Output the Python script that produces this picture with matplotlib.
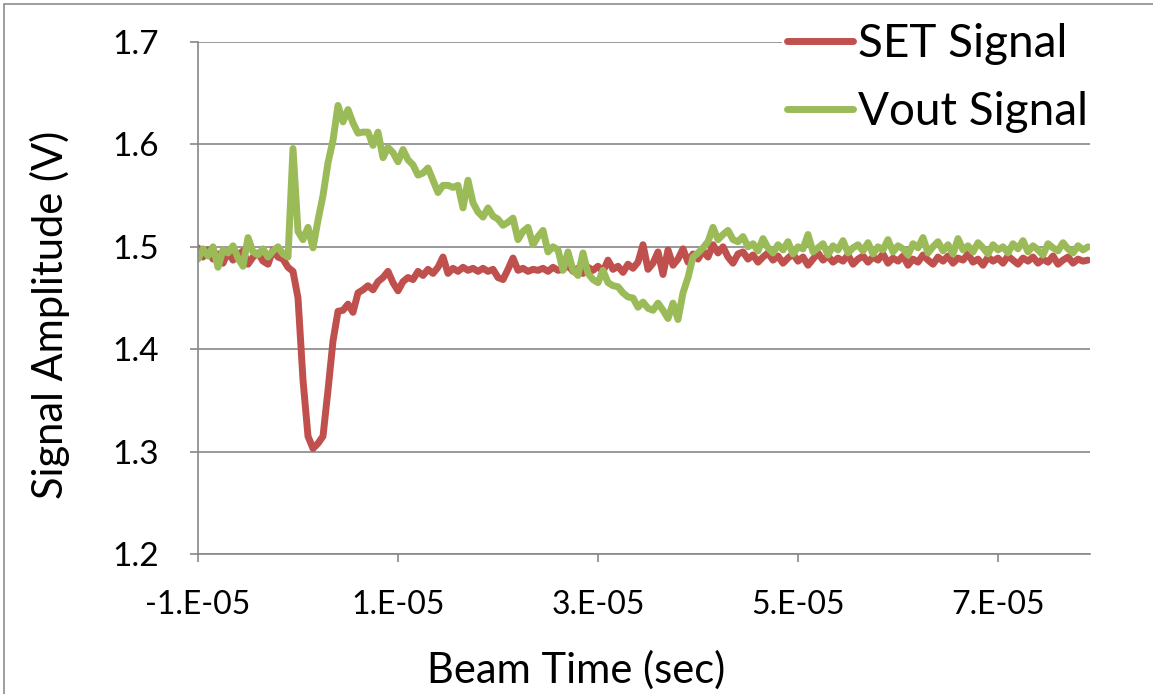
import matplotlib
matplotlib.use("Agg")
import matplotlib.pyplot as plt
from matplotlib.patches import Rectangle

# --- data (time in microseconds, amplitude in volts) ---
time_us = [
    -10.0, -9.5, -9.0, -8.5, -8.0, -7.5, -7.0, -6.5, -6.0, -5.5, -5.0, -4.5, -4.0, -3.5, -3.0, -2.5, -2.0, -1.5, -1.0, -0.5,
    0.0, 0.5, 1.0, 1.5, 2.0, 2.5, 3.0, 3.5, 4.0, 4.5, 5.0, 5.5, 6.0, 6.5, 7.0, 7.5, 8.0, 8.5, 9.0, 9.5,
    10.0, 10.5, 11.0, 11.5, 12.0, 12.5, 13.0, 13.5, 14.0, 14.5, 15.0, 15.5, 16.0, 16.5, 17.0, 17.5, 18.0, 18.5, 19.0, 19.5,
    20.0, 20.5, 21.0, 21.5, 22.0, 22.5, 23.0, 23.5, 24.0, 24.5, 25.0, 25.5, 26.0, 26.5, 27.0, 27.5, 28.0, 28.5, 29.0, 29.5,
    30.0, 30.5, 31.0, 31.5, 32.0, 32.5, 33.0, 33.5, 34.0, 34.5, 35.0, 35.5, 36.0, 36.5, 37.0, 37.5, 38.0, 38.5, 39.0, 39.5,
    40.0, 40.5, 41.0, 41.5, 42.0, 42.5, 43.0, 43.5, 44.0, 44.5, 45.0, 45.5, 46.0, 46.5, 47.0, 47.5, 48.0, 48.5, 49.0, 49.5,
    50.0, 50.5, 51.0, 51.5, 52.0, 52.5, 53.0, 53.5, 54.0, 54.5, 55.0, 55.5, 56.0, 56.5, 57.0, 57.5, 58.0, 58.5, 59.0, 59.5,
    60.0, 60.5, 61.0, 61.5, 62.0, 62.5, 63.0, 63.5, 64.0, 64.5, 65.0, 65.5, 66.0, 66.5, 67.0, 67.5, 68.0, 68.5, 69.0, 69.5,
    70.0, 70.5, 71.0, 71.5, 72.0, 72.5, 73.0, 73.5, 74.0, 74.5, 75.0, 75.5, 76.0, 76.5, 77.0, 77.5, 78.0, 78.5, 79.0,
]

set_signal = [
    # -10 .. -1.5
    1.499, 1.490, 1.497, 1.488, 1.493, 1.484, 1.495, 1.487, 1.492, 1.496, 1.483, 1.490, 1.494, 1.486, 1.483, 1.497, 1.490, 1.488,
    # -1.0 .. 18.0
    1.480, 1.476, 1.450, 1.370, 1.315, 1.303, 1.308, 1.315, 1.360, 1.408, 1.437, 1.438, 1.444, 1.436, 1.455, 1.458, 1.462, 1.458,
    1.466, 1.470, 1.476, 1.465, 1.457, 1.466, 1.470, 1.468, 1.476, 1.472, 1.478, 1.474, 1.480, 1.490, 1.474, 1.479, 1.476, 1.480,
    1.477, 1.479, 1.476,
    # 18.5 .. 44.0
    1.479, 1.476, 1.478, 1.470, 1.468, 1.478, 1.489, 1.477, 1.479, 1.476, 1.478, 1.477, 1.479, 1.476, 1.480, 1.477, 1.478, 1.482,
    1.476, 1.479, 1.474, 1.480, 1.477, 1.481, 1.476, 1.487, 1.478, 1.481, 1.475, 1.483, 1.479, 1.485, 1.502, 1.478, 1.484, 1.495,
    1.473, 1.497, 1.482, 1.488, 1.498, 1.485, 1.493, 1.488, 1.496, 1.490, 1.502, 1.494, 1.500, 1.490, 1.484, 1.493,
    # 44.5 .. 79.0
    1.495, 1.488, 1.492, 1.485, 1.490, 1.494, 1.487, 1.491, 1.484, 1.489, 1.493, 1.486, 1.490, 1.482, 1.488, 1.494, 1.487, 1.491, 1.485, 1.489,
    1.486, 1.492, 1.483, 1.488, 1.491, 1.485, 1.490, 1.487, 1.493, 1.484, 1.489, 1.486, 1.491, 1.482, 1.488, 1.485, 1.492, 1.487, 1.483, 1.490,
    1.486, 1.491, 1.484, 1.489, 1.487, 1.493, 1.485, 1.488, 1.482, 1.490, 1.486, 1.489, 1.484, 1.491, 1.487, 1.483, 1.489, 1.486, 1.490, 1.484,
    1.488, 1.485, 1.491, 1.483, 1.487, 1.490, 1.484, 1.488, 1.486, 1.487,
]

vout_signal = [
    # -10 .. -1.5
    1.488, 1.498, 1.491, 1.500, 1.480, 1.497, 1.494, 1.501, 1.489, 1.481, 1.509, 1.495, 1.492, 1.498, 1.490, 1.496, 1.500, 1.493,
    # -1.0 .. 18.0
    1.490, 1.596, 1.515, 1.507, 1.519, 1.499, 1.526, 1.550, 1.582, 1.604, 1.638, 1.622, 1.634, 1.621, 1.611, 1.612, 1.612, 1.599,
    1.612, 1.587, 1.597, 1.592, 1.583, 1.595, 1.585, 1.580, 1.570, 1.572, 1.577, 1.565, 1.553, 1.560, 1.560, 1.558, 1.560, 1.538,
    1.565, 1.543, 1.534,
    # 18.5 .. 45.0
    1.529, 1.538, 1.530, 1.527, 1.521, 1.524, 1.528, 1.507, 1.515, 1.519, 1.502, 1.510, 1.516, 1.495, 1.500, 1.497, 1.477, 1.495,
    1.477, 1.472, 1.494, 1.474, 1.468, 1.465, 1.477, 1.465, 1.462, 1.461, 1.455, 1.451, 1.450, 1.441, 1.446, 1.440, 1.438, 1.445,
    1.438, 1.430, 1.445, 1.429, 1.455, 1.470, 1.490, 1.494, 1.499, 1.505, 1.519, 1.507, 1.512, 1.516, 1.507, 1.505, 1.510, 1.500,
    # 45.5 .. 79.0
    1.503, 1.496, 1.508, 1.499, 1.494, 1.502, 1.497, 1.505, 1.493, 1.500, 1.498, 1.512, 1.495, 1.499, 1.503, 1.492, 1.501, 1.497, 1.506, 1.494,
    1.499, 1.502, 1.496, 1.504, 1.493, 1.500, 1.497, 1.507, 1.495, 1.501, 1.498, 1.492, 1.503, 1.499, 1.509, 1.494, 1.500, 1.505, 1.496, 1.502,
    1.493, 1.508, 1.497, 1.501, 1.495, 1.504, 1.499, 1.493, 1.502, 1.497, 1.500, 1.494, 1.503, 1.498, 1.506, 1.495, 1.501, 1.497, 1.492, 1.503,
    1.499, 1.496, 1.504, 1.498, 1.494, 1.501, 1.497, 1.500,
]

series_names = ["SET Signal", "Vout Signal"]
x_tick_vals = [-1e-5, 1e-5, 3e-5, 5e-5, 7e-5]
x_tick_labels = ["-1.E-05", "1.E-05", "3.E-05", "5.E-05", "7.E-05"]
y_tick_vals = [1.2, 1.3, 1.4, 1.5, 1.6, 1.7]

RED = "#C0504D"
GREEN = "#9BBB59"
GRID = "#878787"

plt.rcParams['font.family'] = ['Lato', 'DejaVu Sans']

t_sec = [t * 1e-6 for t in time_us]

fig = plt.figure(figsize=(11.53, 6.94), dpi=100)
ax = fig.add_axes([198 / 1153, 1 - 554 / 694, (1090 - 198) / 1153, (554 - 42) / 694])

ax.plot(t_sec, set_signal, color=RED, lw=5, solid_joinstyle='round', solid_capstyle='round', label=series_names[0])
ax.plot(t_sec, vout_signal, color=GREEN, lw=5, solid_joinstyle='round', solid_capstyle='round', label=series_names[1])

ax.set_xlim(-1e-5, 7.92e-5)
ax.set_ylim(1.2, 1.7)
ax.set_xticks(x_tick_vals)
ax.set_xticklabels(x_tick_labels)
ax.set_yticks(y_tick_vals)
ax.set_yticklabels([f"{v:.1f}" for v in y_tick_vals])

ax.grid(axis='y', color=GRID, lw=1.2)
ax.set_axisbelow(True)
for side in ['top', 'right']:
    ax.spines[side].set_visible(False)
for side in ['left', 'bottom']:
    ax.spines[side].set_color(GRID)
    ax.spines[side].set_linewidth(1.2)
ax.tick_params(axis='x', direction='out', length=6, width=1.2, color=GRID, labelsize=23, pad=20)
ax.tick_params(axis='y', direction='out', length=6, width=1.2, color=GRID, labelsize=24, pad=22)

fig.text(0.5, 1 - 683 / 694, "Beam Time (sec)", ha='center', va='baseline', fontsize=30)
fig.text(50 / 1153, 1 - 315 / 694, "Signal Amplitude (V)", ha='center', va='center', rotation=90, fontsize=30)

# legend sits on a white box over the top gridline, like the Excel original
leg = ax.legend(loc='upper left', bbox_to_anchor=(782 / 1153, 1 - 18 / 694), bbox_transform=fig.transFigure,
                fontsize=33, frameon=True, fancybox=False, framealpha=1, edgecolor='none', facecolor='white',
                handlelength=1.44, handletextpad=0.11, labelspacing=0.58, borderpad=0.1, borderaxespad=0)
for h in leg.get_lines():
    h.set_linewidth(5)

fig.patches.append(Rectangle((4 / 1153, -0.01), 1.02, 1 - 4 / 694 + 0.01, transform=fig.transFigure,
                             fill=False, edgecolor='#8C8C8C', lw=1.2))

fig.savefig("out.png", dpi=100)
